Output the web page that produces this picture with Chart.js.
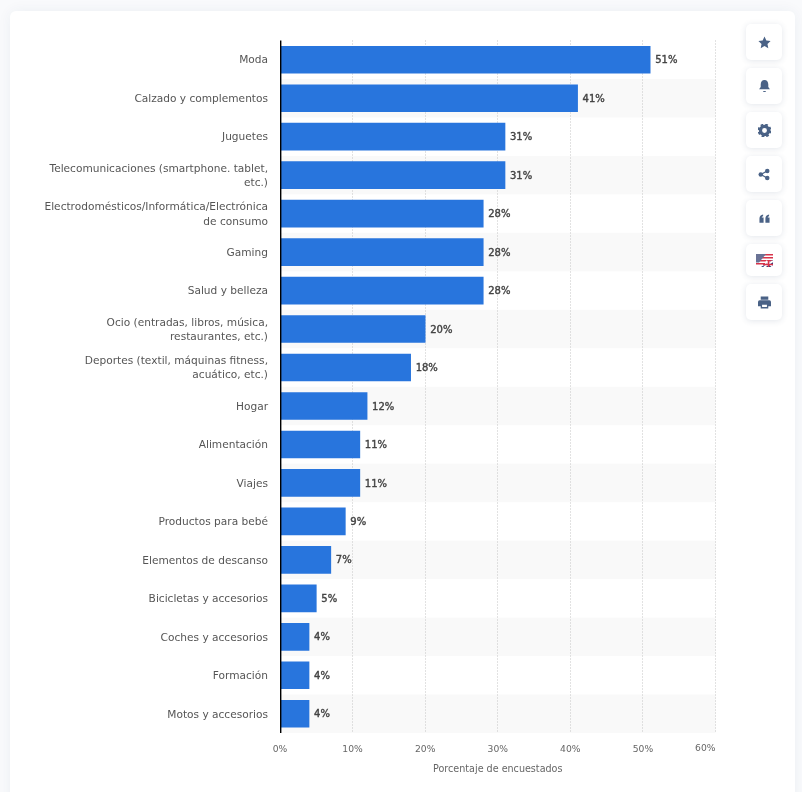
<!DOCTYPE html>
<html>
<head>
<meta charset="utf-8">
<script src="https://cdn.jsdelivr.net/npm/chart.js@4"></script>
<style>
  html, body { margin: 0; padding: 0; background: #f9fafc; overflow: hidden; }
  body { width: 802px; height: 792px; position: relative; }
  .card { position: absolute; left: 10px; top: 11px; width: 785px; height: 800px; background: #fff; border-radius: 6px; box-shadow: 0 0 14px rgba(40, 60, 100, 0.06); }
  #wrap { position: absolute; left: 0; top: 0; width: 802px; height: 792px; }
  .btn { position: absolute; left: 746px; width: 36px; height: 36px; background: #fff; border-radius: 5px; box-shadow: 0 1px 6px rgba(40, 60, 100, 0.13); display: flex; align-items: center; justify-content: center; }
  .btn svg { display: block; }
</style>
</head>
<body>
<div class="card"></div>
<div id="wrap"><canvas id="chart" width="802" height="792"></canvas></div>

<div class="btn" style="top:24px"><svg width="13" height="13" viewBox="0 0 24 24"><path fill="#4a6286" d="M12 1l3.400 7.200 7.800 1-5.700 5.400 1.500 7.800L12 18.600 5 22.400l1.500-7.800L.8 9.200l7.800-1z"/></svg></div>
<div class="btn" style="top:68px"><svg width="13" height="14" viewBox="0 0 24 24"><path fill="#4a6286" d="M12 1c4.500 0 7 3.500 7 8v5l3 4H2l3-4V9c0-4.500 2.500-8 7-8zM9 21h6a3 2 0 0 1-6 0z"/></svg></div>
<div class="btn" style="top:112px"><svg width="13" height="13" viewBox="0 0 24 24"><circle cx="12" cy="12" r="7.500" fill="none" stroke="#4a6286" stroke-width="6"/><circle cx="12" cy="12" r="11" fill="none" stroke="#4a6286" stroke-width="3.500" stroke-dasharray="5 3.640"/></svg></div>
<div class="btn" style="top:156px"><svg width="12" height="13" viewBox="0 0 24 24"><g fill="#4a6286"><circle cx="18.500" cy="5" r="4.500"/><circle cx="18.500" cy="19" r="4.500"/><circle cx="5.500" cy="12" r="4.500"/></g><path stroke="#4a6286" stroke-width="2.500" d="M18 5L6 12l12 7" fill="none"/></svg></div>
<div class="btn" style="top:200px"><svg width="11" height="11" viewBox="0 0 24 24"><path fill="#4a6286" d="M1 12c0-5 3-8 8-9v4c-2 .5-3 1.500-3 3h4v11H1zM14 12c0-5 3-8 8-9v4c-2 .5-3 1.500-3 3h4v11h-9z"/></svg></div>
<div class="btn" style="top:244px;height:32px"><svg width="17" height="13" viewBox="0 0 34 26"><rect width="34" height="26" fill="#fff"/><g fill="#d8334a"><rect width="34" height="3"/><rect y="6" width="34" height="3"/><rect y="12" width="34" height="3"/><rect y="18" width="18" height="3"/></g><path fill="#6a7396" d="M0 0h20L6 17H0z"/><path fill="#1f3a7a" d="M34 12L10 26h24z"/><path stroke="#fff" stroke-width="4" d="M16 26l18-12M20 14l14 12"/><path stroke="#d8334a" stroke-width="3" d="M25 14v12M14 21h20"/></svg></div>
<div class="btn" style="top:284px"><svg width="13" height="13" viewBox="0 0 24 24"><path fill="#4a6286" fill-rule="evenodd" d="M5 1h14v6H5zM3 8h18a3 3 0 0 1 3 3v8h-5v4H5v-4H0v-8a3 3 0 0 1 3-3zM7.500 16v4.500h9V16z"/></svg></div>

<script>
const categories = [
  'Moda',
  'Calzado y complementos',
  'Juguetes',
  ['Telecomunicaciones (smartphone. tablet,', 'etc.)'],
  ['Electrodomésticos/Informática/Electrónica', 'de consumo'],
  'Gaming',
  'Salud y belleza',
  ['Ocio (entradas, libros, música,', 'restaurantes, etc.)'],
  ['Deportes (textil, máquinas fitness,', 'acuático, etc.)'],
  'Hogar',
  'Alimentación',
  'Viajes',
  'Productos para bebé',
  'Elementos de descanso',
  'Bicicletas y accesorios',
  'Coches y accesorios',
  'Formación',
  'Motos y accesorios'
];
const shares = [51, 41, 31, 31, 28, 28, 28, 20, 18, 12, 11, 11, 9, 7, 5, 4, 4, 4];
const xTicks = [0, 10, 20, 30, 40, 50, 60];
const xTitle = 'Porcentaje de encuestados';

const FONT = '"DejaVu Sans", sans-serif';
const xMax = xTicks[xTicks.length - 1];

// every second row gets a light grey band behind the bars
const bands = {
  id: 'bands',
  beforeDatasetsDraw(chart) {
    const { ctx, chartArea, scales } = chart;
    const step = scales.y.getPixelForValue(1) - scales.y.getPixelForValue(0);
    ctx.save();
    ctx.fillStyle = '#f9f9f9';
    categories.forEach((c, i) => {
      if (i % 2 === 1) {
        const y = scales.y.getPixelForValue(i) - step / 2;
        ctx.fillRect(chartArea.left, y, chartArea.width, step);
      }
    });
    ctx.restore();
  }
};

// dotted grid over the bands, then base line and value labels
const overlay = {
  id: 'overlay',
  beforeDatasetsDraw(chart) {
    const { ctx, chartArea, scales } = chart;
    ctx.save();
    ctx.strokeStyle = '#c4c4c4';
    ctx.lineWidth = 1;
    ctx.setLineDash([1, 2]);
    xTicks.slice(1).forEach(t => {
      const x = Math.floor(scales.x.getPixelForValue(t)) + 0.5;
      ctx.beginPath();
      ctx.moveTo(x, chartArea.top);
      ctx.lineTo(x, chartArea.bottom);
      ctx.stroke();
    });
    ctx.restore();
  },
  afterDatasetsDraw(chart) {
    const { ctx, chartArea, scales } = chart;
    ctx.save();
    ctx.strokeStyle = '#000';
    ctx.lineWidth = 1.4;
    const x0 = scales.x.getPixelForValue(0) + 0.7;
    ctx.beginPath();
    ctx.moveTo(x0, chartArea.top);
    ctx.lineTo(x0, chartArea.bottom);
    ctx.stroke();

    ctx.font = '10px ' + FONT;
    ctx.fillStyle = '#444';
    ctx.strokeStyle = '#444';
    ctx.lineWidth = 0.4;
    ctx.textAlign = 'left';
    ctx.textBaseline = 'middle';
    chart.getDatasetMeta(0).data.forEach((bar, i) => {
      ctx.fillText(shares[i] + '%', bar.x + 5, bar.y + 1);
      ctx.strokeText(shares[i] + '%', bar.x + 5, bar.y + 1);
    });

    // last tick label sits flush with the plot edge
    ctx.font = '9.2px ' + FONT;
    ctx.fillStyle = '#666';
    ctx.textAlign = 'right';
    ctx.fillText(xMax + '%', scales.x.getPixelForValue(xMax), 749);
    ctx.restore();
  }
};

new Chart(document.getElementById('chart'), {
  type: 'bar',
  data: {
    labels: categories,
    datasets: [{
      data: shares,
      backgroundColor: '#2875dd',
      barThickness: 27,
      categoryPercentage: 1
    }]
  },
  plugins: [bands, overlay],
  options: {
    indexAxis: 'y',
    responsive: false,
    animation: false,
    layout: { padding: { top: 40.5, right: 86.5, left: 0, bottom: 17 } },
    plugins: { legend: { display: false }, tooltip: { enabled: false } },
    scales: {
      x: {
        min: 0,
        max: xMax,
        afterFit: s => { s.height = 42; },
        afterBuildTicks: s => { s.ticks = xTicks.map(v => ({ value: v })); },
        grid: { display: false },
        border: { display: false },
        ticks: {
          maxRotation: 0,
          padding: 3,
          color: '#666',
          font: { family: FONT, size: 9.2 },
          callback: v => (v === xMax ? '' : v + '%')
        },
        title: {
          display: true,
          text: xTitle,
          color: '#666',
          padding: { top: 0, bottom: 0 },
          font: { family: FONT, size: 9.6 }
        }
      },
      y: {
        afterFit: s => { s.width = 280; },
        grid: { display: false },
        border: { display: false },
        ticks: {
          autoSkip: false,
          padding: 4,
          labelOffset: 1,
          color: '#555',
          font: { family: FONT, size: 10.6, lineHeight: 1.36 }
        }
      }
    }
  }
});
</script>
</body>
</html>
